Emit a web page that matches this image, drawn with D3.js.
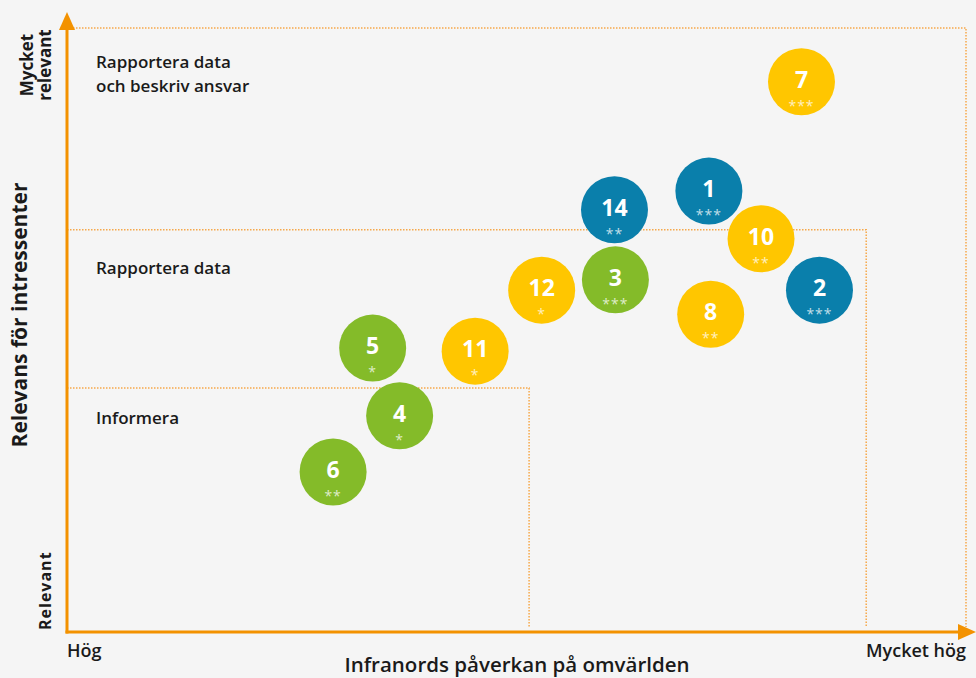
<!DOCTYPE html>
<html>
<head>
<meta charset="utf-8">
<script src="https://cdn.jsdelivr.net/npm/d3@7"></script>
<style>
  body { margin: 0; background: #f5f5f5; }
  text { font-family: "Open Sans", "Noto Sans", sans-serif; }
</style>
</head>
<body>
<div id="chart"></div>
<script>
// issues: id, impact (x), relevance (y), group, stars
const ids       = ["7", "1", "14", "10", "2", "3", "12", "8", "5", "11", "4", "6"];
const impact    = [81.7, 71.4, 60.9, 77.2, 83.7, 61.0, 52.8, 71.6, 34.0, 45.4, 37.0, 29.6];
const relevance = [91.1, 73.0, 69.9, 65.1, 56.6, 58.3, 56.6, 52.6, 47.0, 46.5, 35.8, 26.5];
const groups    = ["gul", "bla", "bla", "gul", "bla", "gron", "gul", "gul", "gron", "gul", "gron", "gron"];
const stars     = ["***", "***", "**", "**", "***", "***", "*", "**", "*", "*", "*", "**"];

// zones (upper right corner in data units)
const zoneNames = ["Informera", "Rapportera data", "Rapportera data|och beskriv ansvar"];
const zoneRight = [51.4, 88.9, 100];
const zoneTop   = [40.4, 66.6, 100];

const colors = {bla: "#0a7fab", gul: "#ffc600", gron: "#84bb29"};
const orange = "#f39200";

const width = 976, height = 678;
const svg = d3.select("#chart").append("svg")
  .attr("width", width)
  .attr("height", height);

svg.append("rect").attr("width", width).attr("height", height).attr("fill", "#f5f5f5");

const x = d3.scaleLinear().domain([0, 100]).range([67, 966]);
const y = d3.scaleLinear().domain([0, 100]).range([632, 28]);

// dotted zone boxes
zoneRight.forEach((r, i) => {
  svg.append("path")
    .attr("d", `M${x(0)},${y(zoneTop[i])} H${x(r)} V${y(0) - 5}`)
    .attr("fill", "none")
    .attr("stroke", "#f6a84a")
    .attr("stroke-width", 1.5)
    .attr("stroke-dasharray", "1.5,1.5");
});

// zone labels
zoneNames.forEach((n, i) => {
  const lines = n.split("|");
  const baseY = i === 0 ? 424 : (i === 1 ? 274 : 68);
  lines.forEach((l, j) => {
    svg.append("text")
      .attr("x", 96)
      .attr("y", baseY + j * 24)
      .attr("font-size", 17)
      .attr("font-weight", 600)
      .attr("fill", "#1a1a1a")
      .text(l);
  });
});

// axes
svg.append("line")
  .attr("x1", x(0)).attr("y1", y(0) + 1.5)
  .attr("x2", x(0)).attr("y2", 26)
  .attr("stroke", orange).attr("stroke-width", 3);
svg.append("path")
  .attr("d", `M${x(0) - 8},30 L${x(0)},12 L${x(0) + 8},30 Z`)
  .attr("fill", orange);
svg.append("line")
  .attr("x1", x(0) - 1.5).attr("y1", y(0))
  .attr("x2", 962).attr("y2", y(0))
  .attr("stroke", orange).attr("stroke-width", 3);
svg.append("path")
  .attr("d", `M958,${y(0) - 8} L976,${y(0)} L958,${y(0) + 8} Z`)
  .attr("fill", orange);

// bubbles
const pts = ids.map((id, i) => ({id, x: impact[i], y: relevance[i], g: groups[i], s: stars[i]}));
const node = svg.selectAll("g.bubble")
  .data(pts)
  .join("g")
  .attr("class", "bubble")
  .attr("transform", d => `translate(${x(d.x)},${y(d.y)})`);

node.append("circle")
  .attr("r", 33.5)
  .attr("fill", d => colors[d.g]);

node.append("text")
  .attr("text-anchor", "middle")
  .attr("y", 6)
  .attr("font-size", 23)
  .attr("font-weight", 700)
  .attr("fill", "#fff")
  .text(d => d.id);

node.append("text")
  .attr("text-anchor", "middle")
  .attr("y", 29)
  .attr("font-size", 14)
  .attr("fill", "#fff")
  .attr("fill-opacity", 0.75)
  .attr("letter-spacing", 1)
  .text(d => d.s);

// axis titles
svg.append("text")
  .attr("x", 517).attr("y", 672)
  .attr("text-anchor", "middle")
  .attr("font-size", 20.5)
  .attr("font-weight", 600)
  .attr("fill", "#1a1a1a")
  .text("Infranords påverkan på omvärlden");

svg.append("text")
  .attr("x", 67).attr("y", 657)
  .attr("font-size", 18)
  .attr("font-weight", 600)
  .attr("fill", "#1a1a1a")
  .text("Hög");

svg.append("text")
  .attr("x", 966).attr("y", 657)
  .attr("text-anchor", "end")
  .attr("font-size", 18)
  .attr("font-weight", 600)
  .attr("fill", "#1a1a1a")
  .text("Mycket hög");

svg.append("text")
  .attr("transform", "translate(27,315) rotate(-90)")
  .attr("text-anchor", "middle")
  .attr("font-size", 21)
  .attr("font-weight", 700)
  .attr("fill", "#1a1a1a")
  .text("Relevans för intressenter");

svg.append("text")
  .attr("transform", "translate(51,630) rotate(-90)")
  .attr("font-size", 16)
  .attr("font-weight", 700)
  .attr("letter-spacing", 1)
  .attr("fill", "#1a1a1a")
  .text("Relevant");

svg.append("text")
  .attr("transform", "translate(33,65) rotate(-90)")
  .attr("text-anchor", "middle")
  .attr("font-size", 17)
  .attr("font-weight", 700)
  .attr("fill", "#1a1a1a")
  .text("Mycket");
svg.append("text")
  .attr("transform", "translate(51,65) rotate(-90)")
  .attr("text-anchor", "middle")
  .attr("font-size", 17)
  .attr("font-weight", 700)
  .attr("fill", "#1a1a1a")
  .text("relevant");
</script>
</body>
</html>
